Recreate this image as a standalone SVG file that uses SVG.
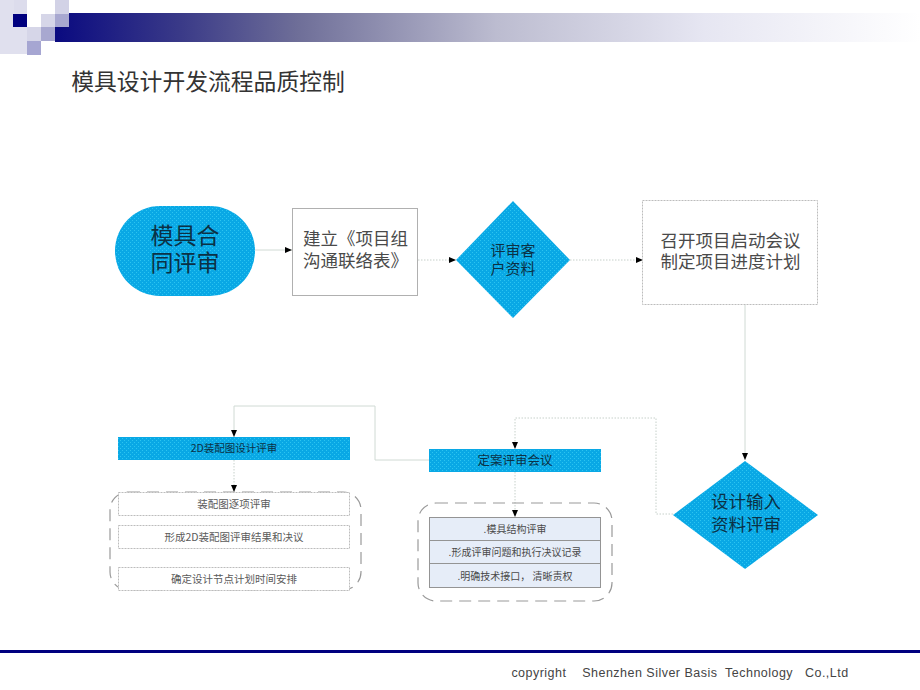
<svg xmlns="http://www.w3.org/2000/svg" width="920" height="690" viewBox="0 0 920 690">
<style>
text{font-family:"Noto Sans CJK SC","Liberation Sans",sans-serif;text-anchor:middle;dominant-baseline:central}
.blue{fill:url(#dither)}
.box{fill:#fff;stroke:#b0b0b0;stroke-width:1}
.dotbox{fill:#fff;stroke:#bcbcbc;stroke-width:1;stroke-dasharray:2 1}
.cell{fill:#e6edf8;stroke:#949494;stroke-width:1}
.group{fill:none;stroke:#9a9a9a;stroke-width:1.2;stroke-dasharray:12 7}
.con{fill:none;stroke:#d0dad4;stroke-width:1}
.dot{stroke-dasharray:1.5 1.5;stroke:#c6d0ca}
.t-dark{fill:#0b3145}
.t-grey{fill:#4a4a4a}
.t-small{fill:#5a5a5a;font-size:10.5px}
.t-cell{fill:#4a4a4a;font-size:10px}
</style>
<defs>
<linearGradient id="bar" x1="0" x2="1" y1="0" y2="0"><stop offset="0" stop-color="#0a0a80"/><stop offset="0.145" stop-color="#3a3a88"/><stop offset="0.28" stop-color="#6e6e98"/><stop offset="0.51" stop-color="#bcbcd0"/><stop offset="0.75" stop-color="#e6e6f2"/><stop offset="1" stop-color="#fff"/></linearGradient>
<pattern id="dither" width="4" height="4" patternUnits="userSpaceOnUse"><rect width="4" height="4" fill="#09a8e5"/><rect x="0" y="0" width="1" height="1" fill="#2cc4f0"/><rect x="2" y="2" width="1" height="1" fill="#2cc4f0"/></pattern>
<marker id="arr" markerWidth="7" markerHeight="6" refX="7" refY="3" orient="auto" markerUnits="userSpaceOnUse"><path d="M0 0L7 3L0 6Z" fill="#000"/></marker>
</defs>
<rect width="920" height="690" fill="#fff"/>
<g id="header">
<rect x="55" y="13" width="865" height="29" fill="url(#bar)"/>
<rect x="0" y="0" width="14" height="54" fill="#e0e0ee"/>
<rect x="14" y="0" width="13" height="14" fill="#dcdcec"/>
<rect x="14" y="27" width="13" height="27" fill="#e0e0ee"/>
<rect x="13" y="14" width="14" height="13" fill="#00007f"/>
<rect x="27" y="27" width="14" height="14" fill="#d6d6e8"/>
<rect x="27" y="41" width="14" height="14" fill="#a6a6d2"/>
<rect x="41" y="14" width="14" height="13" fill="#d6d6e8"/>
<rect x="41" y="27" width="14" height="14" fill="#a8a8d0"/>
<rect x="55" y="0" width="14" height="14" fill="#d2d2e6"/>
<rect x="55" y="14" width="14" height="13" fill="#a8a8d0"/>
</g>
<text x="208" y="80" font-size="22.8" fill="#333">模具设计开发流程品质控制</text>
<g id="connectors">
<path class="con" d="M255 250H292" marker-end="url(#arr)"/>
<path class="con dot" d="M418 260H456" marker-end="url(#arr)"/>
<path class="con dot" d="M570 260H643" marker-end="url(#arr)"/>
<path class="con" d="M745 304V460" marker-end="url(#arr)"/>
<path class="con dot" d="M673 514H656V418H515V449" marker-end="url(#arr)"/>
<path class="con" d="M429 460H375V406H234V437" marker-end="url(#arr)"/>
<path class="con dot" d="M234 460V492" marker-end="url(#arr)"/>
<path class="con dot" d="M515 472V517" marker-end="url(#arr)"/>
</g>
<g id="n-contract"><rect class="blue" x="115" y="206" width="140" height="90" rx="45" ry="45"/>
<text class="t-dark" font-size="23"><tspan x="185" y="234">模具合</tspan><tspan x="185" y="261">同评审</tspan></text></g>
<g id="n-contact"><rect class="box" x="292.500" y="208.500" width="125" height="87"/>
<text class="t-grey" font-size="17.500"><tspan x="355.500" y="237">建立《项目组</tspan><tspan x="355.500" y="259">沟通联络表》</tspan></text></g>
<g id="n-review-client"><polygon class="blue" points="513,201 570,260 513,318 456,260"/>
<text class="t-dark" font-size="15"><tspan x="513" y="249">评审客</tspan><tspan x="513" y="267">户资料</tspan></text></g>
<g id="n-kickoff"><rect class="dotbox" x="642.500" y="200.500" width="175" height="104"/>
<text class="t-grey" font-size="17.500"><tspan x="730.500" y="239">召开项目启动会议</tspan><tspan x="730.500" y="260">制定项目进度计划</tspan></text></g>
<g id="n-input-review"><polygon class="blue" points="745,461 818,515 745,569 673,515"/>
<text class="t-dark" font-size="17.500"><tspan x="746" y="500">设计输入</tspan><tspan x="746" y="523">资料评审</tspan></text></g>
<g id="n-final"><rect class="blue" x="429" y="449" width="172" height="23"/>
<text class="t-dark" font-size="12.500" x="515" y="459">定案评审会议</text></g>
<g id="n-2d"><rect class="blue" x="118" y="437" width="232" height="23"/>
<text class="t-dark" font-size="10.500" x="234" y="447">2D装配图设计评审</text></g>
<g id="n-2d-group">
<rect class="group" x="110" y="492" width="251" height="98" rx="18"/>
<rect class="dotbox" x="118.500" y="492.500" width="231" height="23"/><text class="t-small" x="234" y="503">装配图逐项评审</text>
<rect class="dotbox" x="118.500" y="525.500" width="231" height="23"/><text class="t-small" x="234" y="536">形成2D装配图评审结果和决议</text>
<rect class="dotbox" x="118.500" y="567.500" width="231" height="23"/><text class="t-small" x="234" y="578">确定设计节点计划时间安排</text>
</g>
<g id="n-final-group">
<rect class="group" x="418" y="503" width="194" height="98" rx="18"/>
<rect class="cell" x="429.500" y="517.500" width="171" height="23"/><text class="t-cell" x="515" y="528">.模具结构评审</text>
<rect class="cell" x="429.500" y="540.500" width="171" height="23"/><text class="t-cell" x="515" y="551">.形成评审问题和执行决议记录</text>
<rect class="cell" x="429.500" y="563.500" width="171" height="24"/><text class="t-cell" x="515" y="575">.明确技术接口， 清晰责权</text>
</g>
<g id="footer">
<rect x="0" y="650" width="920" height="3" fill="#00007f"/>
<text x="680" y="672.500" font-size="12.500" letter-spacing="0.480" fill="#444" style="font-family:'Liberation Sans',sans-serif" xml:space="preserve">copyright    Shenzhen Silver Basis  Technology   Co.,Ltd</text>
</g>
</svg>
